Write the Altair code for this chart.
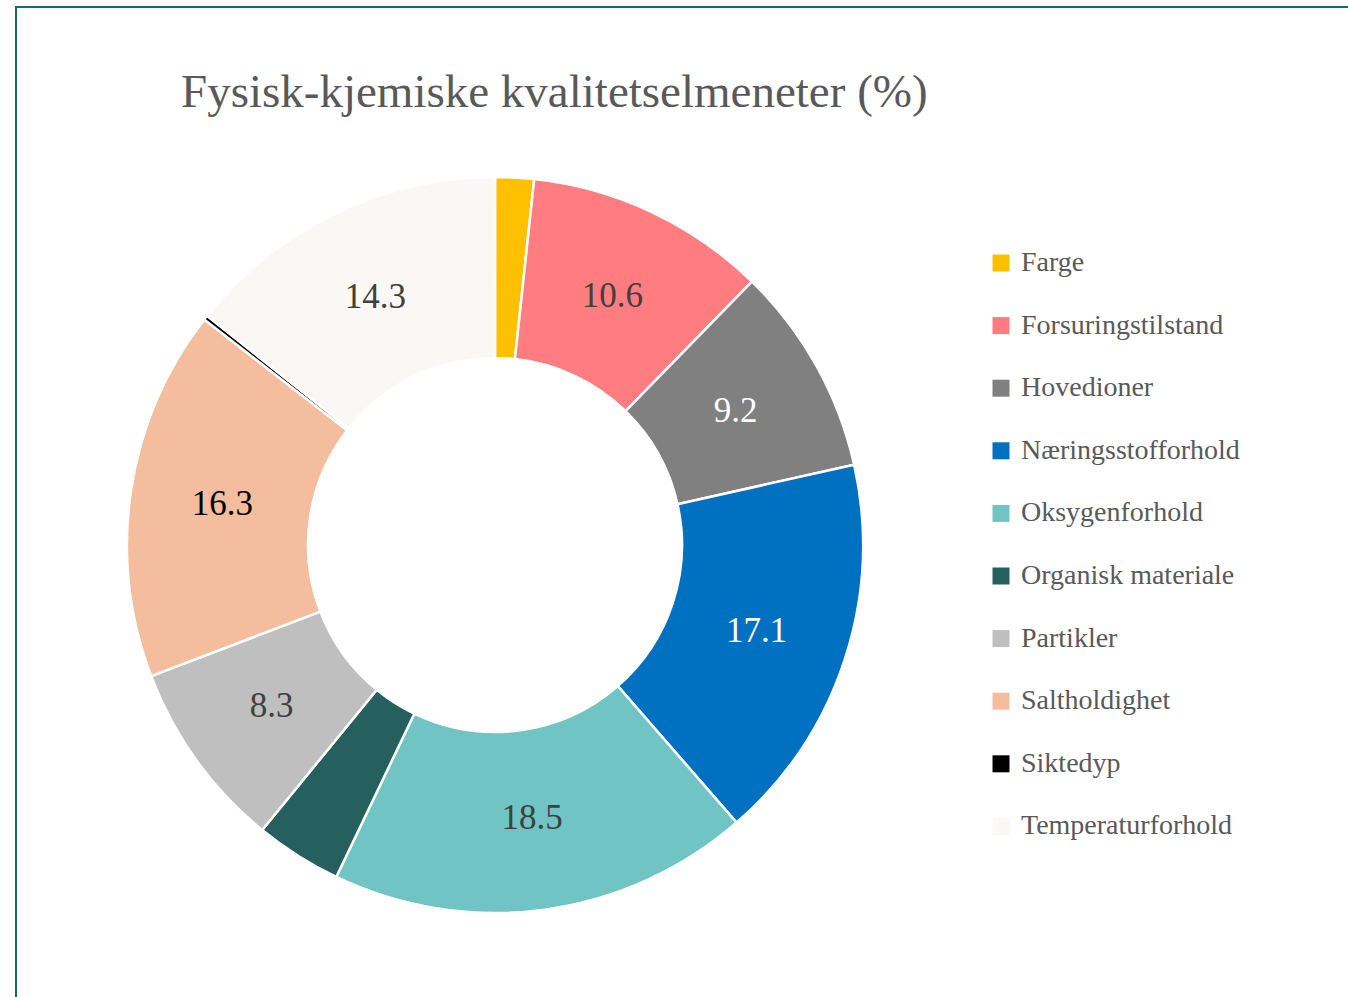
import altair as alt
import pandas as pd

categories = ["Farge", "Forsuringstilstand", "Hovedioner", "Næringsstofforhold",
              "Oksygenforhold", "Organisk materiale", "Partikler", "Saltholdighet",
              "Siktedyp", "Temperaturforhold"]
values = [1.7, 10.6, 9.2, 17.1, 18.5, 3.8, 8.3, 16.3, 0.2, 14.3]
labels = ["", "10.6", "9.2", "17.1", "18.5", "", "8.3", "16.3", "", "14.3"]
colors = ["#FFC000", "#FF7C80", "#808080", "#0070C0", "#70C4C3",
          "#255F5E", "#BFBFBF", "#F4BE9E", "#000000", "#F9F8F5"]
label_colors = ["#404040", "#404040", "#FFFFFF", "#FFFFFF", "#404040",
                "#404040", "#404040", "#000000", "#404040", "#404040"]

df = pd.DataFrame({
    "Kategori": categories,
    "Andel": values,
    "Etikett": labels,
    "Etikettfarge": label_colors,
    "Rekkefolge": list(range(len(categories))),
})

CX, CY = 495, 545
R_OUT, R_IN = 368, 187
FONT = "Liberation Serif"

base = alt.Chart(df).encode(
    theta=alt.Theta("Andel:Q", stack=True),
    order=alt.Order("Rekkefolge:Q"),
)

arcs = base.mark_arc(
    outerRadius=R_OUT, innerRadius=R_IN, stroke="#FFFFFF", strokeWidth=2.5
).encode(
    x=alt.value(CX),
    y=alt.value(CY),
    color=alt.Color(
        "Kategori:N",
        scale=alt.Scale(domain=categories, range=colors),
        legend=alt.Legend(
            title=None,
            orient="none",
            legendX=987,
            legendY=249,
            symbolType="square",
            symbolSize=289,
            symbolStrokeWidth=0,
            labelFont=FONT,
            labelFontSize=28,
            labelColor="#595959",
            labelOffset=6,
            rowPadding=34.6,
            labelLimit=400,
        ),
    ),
)

texts = base.mark_text(
    radius=(R_OUT + R_IN) / 2 - 2, font=FONT, fontSize=35, align="center", baseline="middle"
).encode(
    x=alt.value(CX),
    y=alt.value(CY),
    text="Etikett:N",
    color=alt.Color("Etikettfarge:N", scale=None),
)

frame_df = pd.DataFrame({"ramme": [1]})
frame = alt.Chart(frame_df).mark_rect(
    fill=None, stroke="#1A6966", strokeWidth=2
).encode(
    x=alt.value(16), x2=alt.value(1400), y=alt.value(7), y2=alt.value(1100)
)

chart = alt.layer(frame, arcs, texts).properties(
    width=1348,
    height=997,
    padding=0,
    autosize=alt.AutoSizeParams(type="none"),
    title=alt.TitleParams(
        text="Fysisk-kjemiske kvalitetselmeneter (%)",
        font=FONT,
        fontSize=47,
        fontWeight="normal",
        color="#595959",
        anchor="start",
        frame="group",
        baseline="alphabetic",
        dx=181,
        dy=158,
    ),
).configure_view(stroke=None)

chart.save("out.html", embed_options={"renderer": "svg", "actions": False})
